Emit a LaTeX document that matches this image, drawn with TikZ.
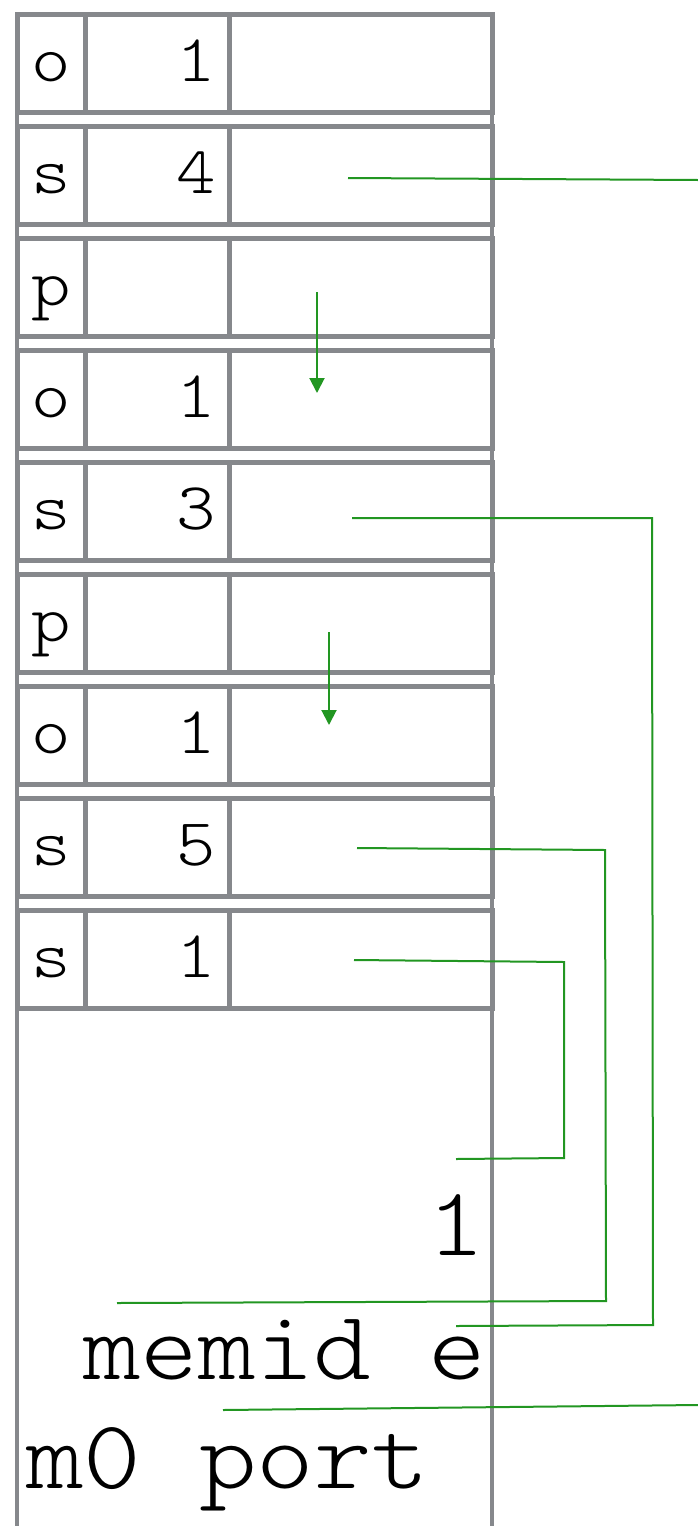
\documentclass[tikz,border=0pt]{standalone}
\usepackage{fontspec}
\setmonofont{lmmonolt10-regular.otf}[FakeStretch=1.12]
\usetikzlibrary{arrows.meta}
\definecolor{framegray}{RGB}{134,136,140}
\definecolor{linkgreen}{RGB}{34,150,34}
\tikzset{
  cellbox/.style={draw=framegray, line width=5pt},
  frameline/.style={draw=framegray, line width=3.5pt},
  rowtxt/.style={inner sep=0pt, font=\fontsize{67}{67}\selectfont\ttfamily},
  bigtxt/.style={inner sep=0pt, font=\fontsize{98}{98}\selectfont\ttfamily},
  link/.style={draw=linkgreen, line width=2pt},
  linkarrow/.style={draw=linkgreen, line width=2pt, -{Triangle[length=15pt,width=15pt]}},
}
\begin{document}
\begin{tikzpicture}[x=1pt,y=-1pt]
\useasboundingbox (0,0) rectangle (698,1526);
% outer frame
\draw[frameline] (17,14) -- (17,1530);
\draw[frameline] (492,14) -- (492,1530);
% rows
\foreach \i/\l/\n in {0/o/1,1/s/4,2/p/,3/o/1,4/s/3,5/p/,6/o/1,7/s/5,8/s/1}{
  \pgfmathsetmacro{\t}{14+112*\i}
  \pgfmathsetmacro{\b}{\t+98}
  \draw[cellbox] (17,\t) rectangle (492,\b);
  \draw[cellbox] (85,\t) -- (85,\b);
  \draw[cellbox] (229,\t) -- (229,\b);
  \node[rowtxt, anchor=base] (let\i) at (51,\t+67) {\l};
  \node[rowtxt, anchor=base east] (num\i) at (216,\t+67) {\n};
}
% bottom texts
\node[bigtxt, anchor=base east] (one) at (485,1255) {1};
\node[bigtxt, anchor=base west] (memid) at (83,1379) {memid e};
\node[bigtxt, anchor=base west] (port) at (26,1488) {m0 port};
% connector end points
\coordinate (s4a) at (348,178);
\coordinate (s4b) at (698,180);
\coordinate (p2a) at (317,292);
\coordinate (p2b) at (317,393);
\coordinate (s3a) at (352,518);
\coordinate (s3b) at (456,1326);
\coordinate (p5a) at (329,632);
\coordinate (p5b) at (329,725);
\coordinate (s5a) at (357,848);
\coordinate (s5b) at (117,1303);
\coordinate (s1a) at (354,960);
\coordinate (s1b) at (456,1159);
\coordinate (m0a) at (223,1410);
\coordinate (m0b) at (698,1405);
% connectors
\draw[link] (s4a) -- (s4b);
\draw[linkarrow] (p2a) -- (p2b);
\draw[link] (s3a) -- (652,518) -- (653,1325) -- (s3b);
\draw[linkarrow] (p5a) -- (p5b);
\draw[link] (s5a) -- (605,850) -- (606,1301) -- (s5b);
\draw[link] (s1a) -- (564,962) -- (564,1158) -- (s1b);
\draw[link] (m0a) -- (m0b);
\end{tikzpicture}
\end{document}
